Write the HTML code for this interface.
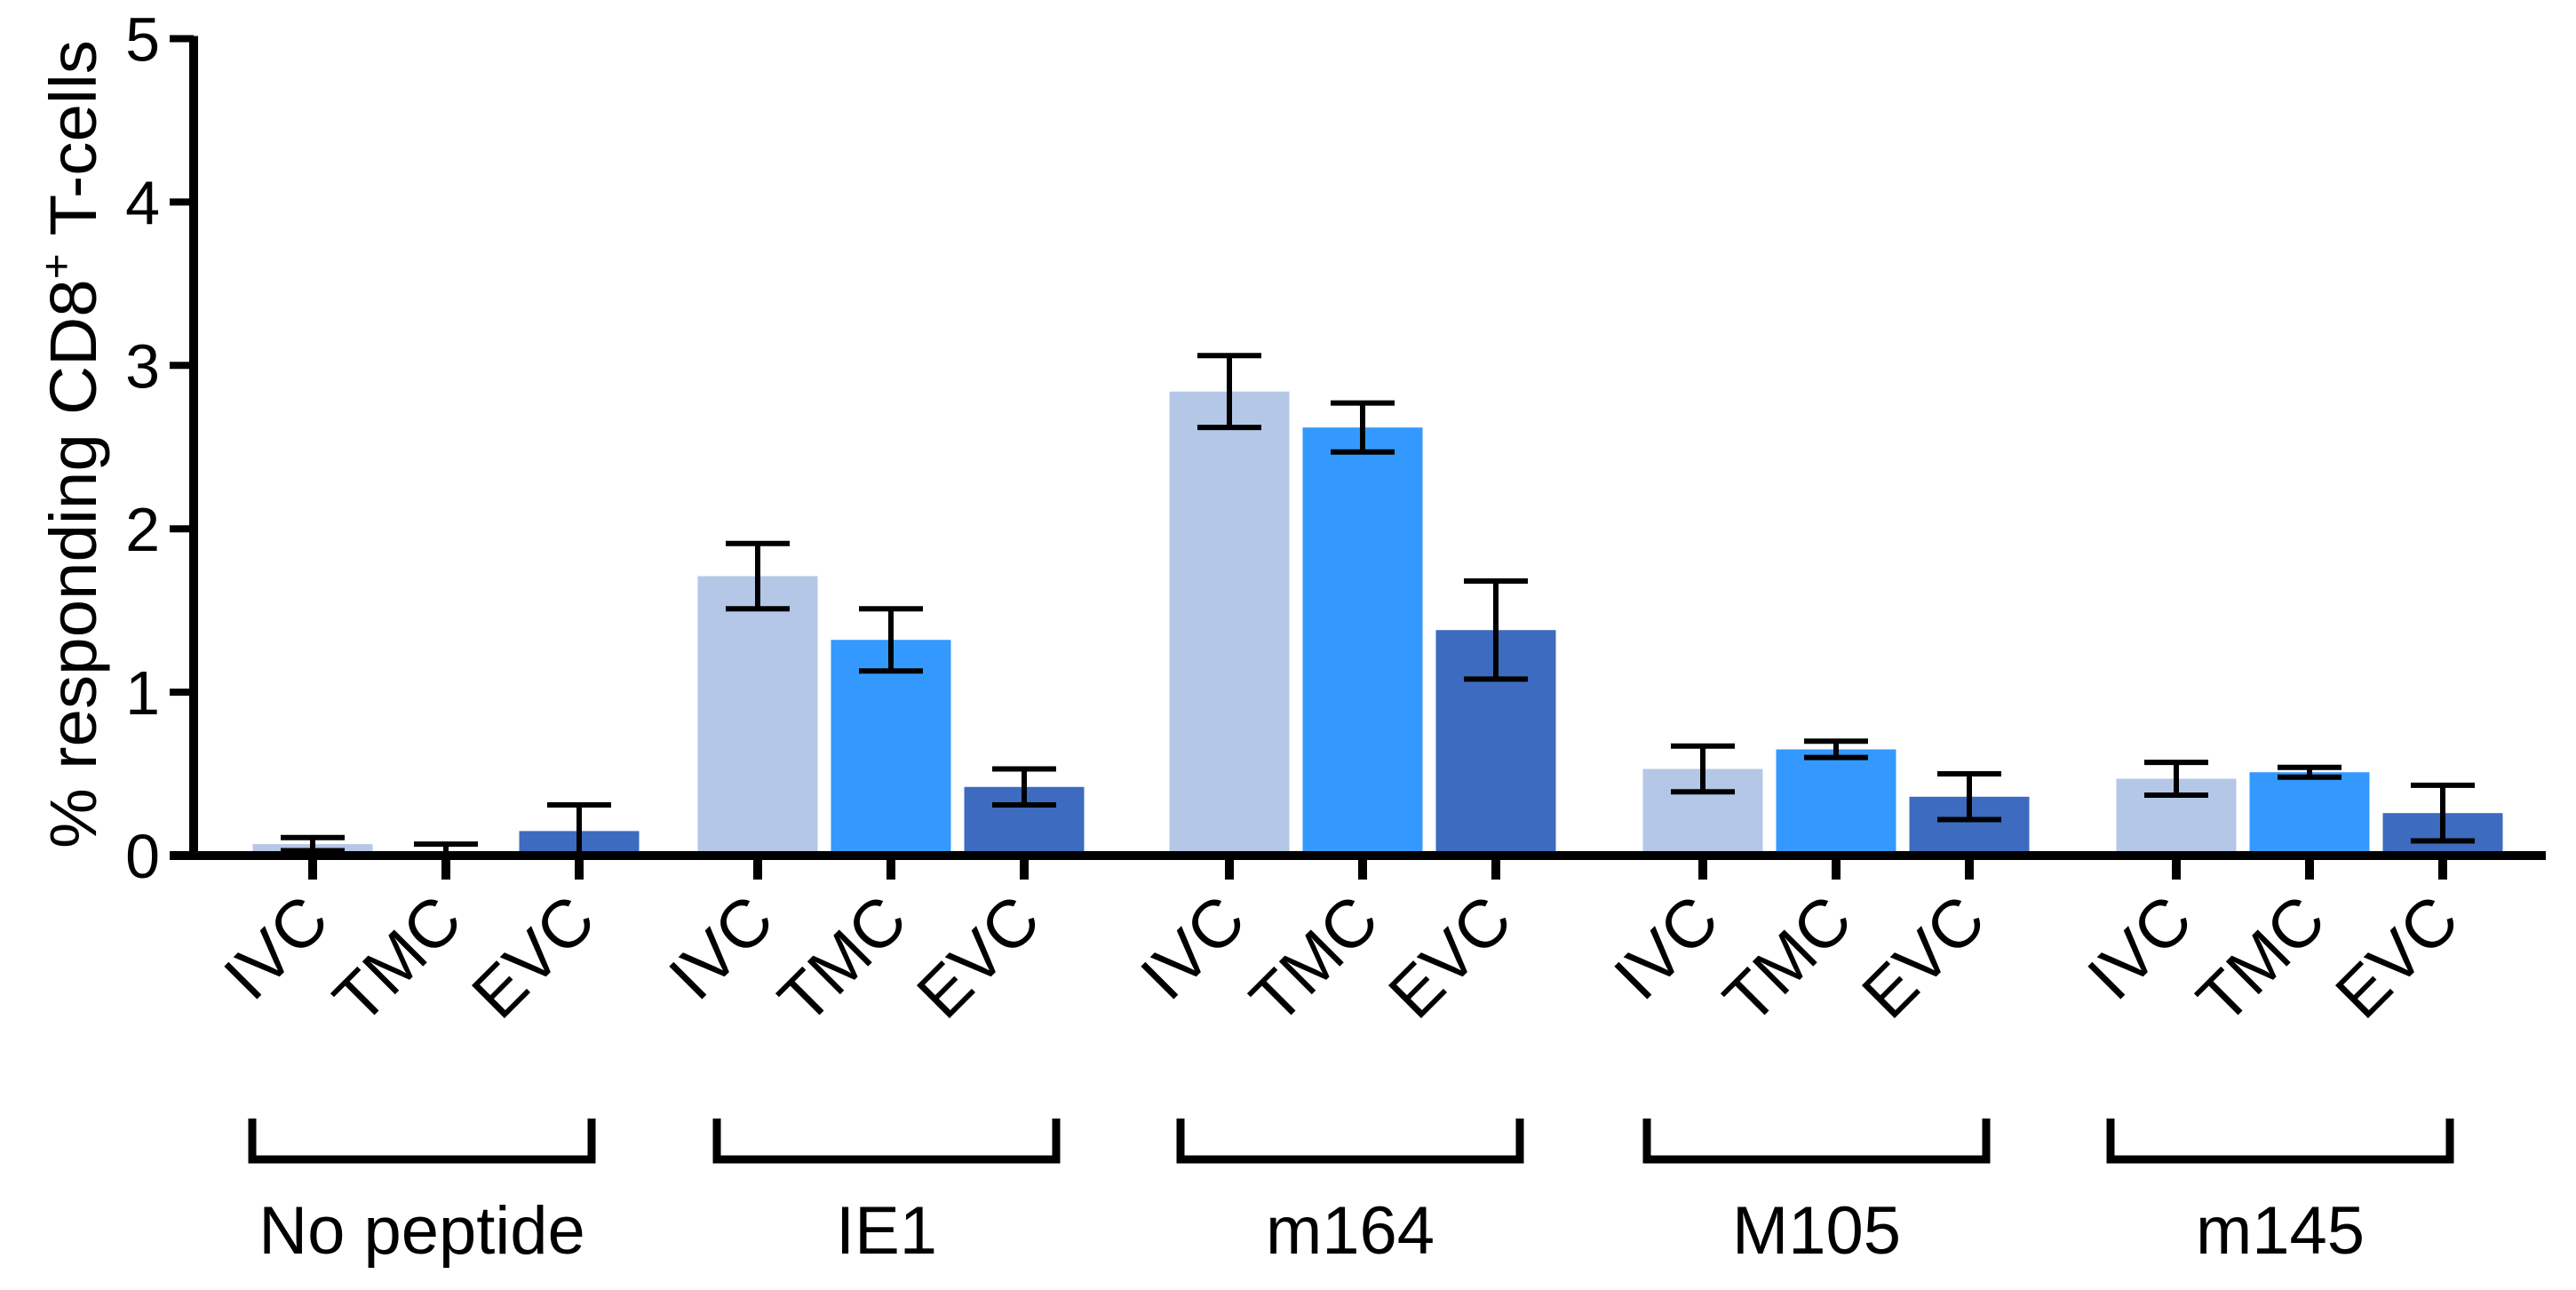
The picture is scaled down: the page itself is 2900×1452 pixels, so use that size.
<!DOCTYPE html>
<html><head><meta charset="utf-8"><style>
html,body{margin:0;padding:0;background:#fff;}
svg{display:block;font-family:"Liberation Sans",Arial,sans-serif;}
</style></head><body>
<svg id="chart" width="2900" height="1452" viewBox="0 0 2900 1452" xmlns="http://www.w3.org/2000/svg">
<text transform="translate(108,500) rotate(-90)" text-anchor="middle" font-size="74" textLength="910" lengthAdjust="spacingAndGlyphs">% responding CD8<tspan dy="-28" font-size="48">+</tspan><tspan dy="28"> T-cells</tspan></text>
</svg>
<script>
const groups = ["No peptide", "IE1", "m164", "M105", "m145"];
const conditions = ["IVC", "TMC", "EVC"];
const ivcValues = [0.07, 1.71, 2.84, 0.53, 0.47];
const tmcValues = [0.01, 1.32, 2.62, 0.65, 0.51];
const evcValues = [0.15, 0.42, 1.38, 0.36, 0.26];
const ivcErr = [0.04, 0.20, 0.22, 0.14, 0.10];
const tmcErr = [0.06, 0.19, 0.15, 0.05, 0.03];
const evcErr = [0.16, 0.11, 0.30, 0.14, 0.17];
const yTicks = [0, 1, 2, 3, 4, 5];

const svg = document.getElementById('chart');
const NS = 'http://www.w3.org/2000/svg';
const colors = ["#b4c7e7", "#3399ff", "#3d6bbf"];
const series = [ivcValues, tmcValues, evcValues];
const errs = [ivcErr, tmcErr, evcErr];
const groupStart = [352, 853, 1384, 1917, 2450];
const bracketCenters = [475, 998, 1520, 2045, 2567];
const step = 150, barW = 135;
const y0 = 963, unit = 183.9, axisX = 218;
function yScale(v){ return y0 - v*unit; }
function xScale(g,b){ return groupStart[g] + b*step; }
function mk(tag, attrs){ const e=document.createElementNS(NS,tag); for(const k in attrs) e.setAttribute(k,attrs[k]); svg.appendChild(e); return e; }

for(let g=0; g<groups.length; g++){
  for(let b=0; b<3; b++){
    const cx = xScale(g,b), v = series[b][g], e = errs[b][g];
    const r = mk('rect',{x:cx-barW/2, y:yScale(v), width:barW, height:y0-yScale(v), fill:colors[b]});
    
    
    const lo = Math.max(0, v-e), hi = v+e;
    const eb = mk('path',{d:`M${cx},${yScale(lo)}V${yScale(hi)}M${cx-36},${yScale(hi)}H${cx+36}M${cx-36},${yScale(lo)}H${cx+36}`, stroke:'#000', 'stroke-width':6, fill:'none'});
    
    
    const tk = mk('line',{x1:cx, x2:cx, y1:y0, y2:990, stroke:'#000', 'stroke-width':10});
    
    
    const lab = mk('text',{transform:`translate(${cx+22},${1040}) rotate(-45)`, 'text-anchor':'end', 'font-size':76});
    lab.textContent = conditions[b];
    
    
  }
  const bx1 = bracketCenters[g]-191, bx2 = bracketCenters[g]+191;
  const br = mk('path',{d:`M${bx1},1259V1305H${bx2}V1259`, stroke:'#000', 'stroke-width':9, fill:'none'});
  
  
  const gl = mk('text',{x:bracketCenters[g], y:1411, 'text-anchor':'middle', 'font-size':76});
  gl.textContent = groups[g];
  
  
}
const ya = mk('line',{x1:axisX, x2:axisX, y1:yScale(5)-3, y2:y0+5, stroke:'#000', 'stroke-width':10});


const xa = mk('line',{x1:axisX-27, x2:2866, y1:y0, y2:y0, stroke:'#000', 'stroke-width':10});


for(const t of yTicks){
  const l = mk('line',{x1:axisX-27, x2:axisX, y1:yScale(t), y2:yScale(t), stroke:'#000', 'stroke-width':8});
  
  
  const tx = mk('text',{x:axisX-38, y:yScale(t)+25, 'text-anchor':'end', 'font-size':70});
  tx.textContent = t;
  
  
}
</script>
</body></html>
